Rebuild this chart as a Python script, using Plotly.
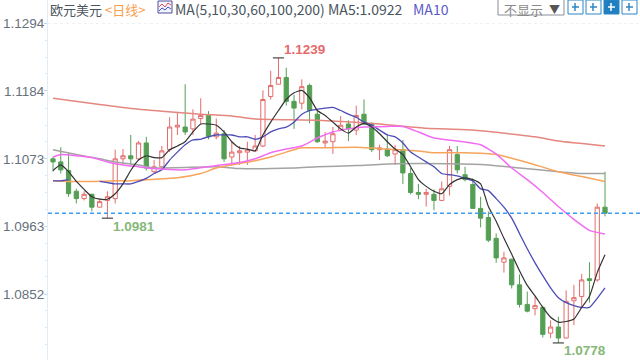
import plotly.graph_objects as go

open_ = [1.1073,1.1068,1.1054,1.1020,1.1008,1.1015,1.0994,1.1005,1.1008,1.1073,1.1078,1.1073,
         1.1099,1.1052,1.1060,1.1088,1.1125,1.1125,1.1122,1.1139,1.1144,1.1109,1.1114,1.1076,
         1.1083,1.1084,1.1086,1.1094,1.1175,1.1195,1.1206,1.1167,1.1164,1.1193,1.1146,1.1099,
         1.1101,1.1120,1.1130,1.1120,1.1146,1.1130,1.1088,1.1089,1.1081,1.1088,1.1049,1.1018,
         1.1015,1.1015,1.1005,1.1028,1.1080,1.1047,1.1031,1.0992,1.0977,1.0943,1.0904,1.0909,
         1.0867,1.0835,1.0828,1.0830,1.0788,1.0798,1.0780,1.0841,1.0848,1.0877,1.0875,1.0994]
close = [1.1068,1.1055,1.1016,1.1008,1.1015,1.0994,1.1003,1.1011,1.1073,1.1078,1.1073,1.1099,
         1.1058,1.1060,1.1086,1.1125,1.1128,1.1117,1.1138,1.1144,1.1109,1.1115,1.1073,1.1084,
         1.1086,1.1088,1.1094,1.1170,1.1193,1.1206,1.1167,1.1156,1.1191,1.1152,1.1101,1.1102,
         1.1114,1.1128,1.1122,1.1144,1.1130,1.1088,1.1091,1.1078,1.1088,1.1050,1.1018,1.1015,
         1.1018,1.1005,1.1024,1.1088,1.1055,1.1039,1.0992,1.0976,1.0940,1.0911,1.0911,1.0867,
         1.0835,1.0824,1.0833,1.0786,1.0798,1.0780,1.0840,1.0846,1.0875,1.0874,1.0994,1.0984]
high = [1.1076,1.1092,1.1083,1.1024,1.1020,1.1016,1.1008,1.1020,1.1088,1.1089,1.1112,1.1102,
        1.1109,1.1071,1.1094,1.1141,1.1149,1.1195,1.1154,1.1172,1.1151,1.1139,1.1120,1.1101,
        1.1094,1.1101,1.1112,1.1185,1.1217,1.1238,1.1222,1.1178,1.1203,1.1196,1.1152,1.1117,
        1.1125,1.1143,1.1136,1.1160,1.1170,1.1133,1.1096,1.1114,1.1096,1.1104,1.1058,1.1032,
        1.1024,1.1023,1.1036,1.1094,1.1094,1.1060,1.1041,1.1011,1.0987,1.0951,1.0921,1.0909,
        1.0884,1.0856,1.0848,1.0833,1.0809,1.0815,1.0858,1.0867,1.0885,1.0904,1.1000,1.1052]
low = [1.1052,1.1049,1.1011,1.1000,1.1005,1.0987,1.0994,1.0976,1.1000,1.1063,1.1062,1.1071,
       1.1054,1.1050,1.1057,1.1084,1.1112,1.1112,1.1112,1.1130,1.1105,1.1105,1.1068,1.1063,
       1.1063,1.1063,1.1084,1.1092,1.1170,1.1195,1.1160,1.1122,1.1154,1.1131,1.1099,1.1091,
       1.1081,1.1118,1.1102,1.1112,1.1128,1.1084,1.1071,1.1076,1.1063,1.1032,1.1015,1.1007,
       1.0995,1.0989,1.1005,1.1013,1.1049,1.1036,1.0992,1.0961,1.0937,1.0903,1.0887,1.0861,
       1.0830,1.0822,1.0817,1.0781,1.0780,1.0772,1.0780,1.0801,1.0830,1.0838,1.0872,1.0979]

ma5 = [1.1054,1.1063,1.1052,1.1036,1.1023,1.1011,1.1007,1.1007,1.1016,1.1032,1.1054,1.1071,
       1.1078,1.1075,1.1075,1.1088,1.1094,1.1101,1.1117,1.1130,1.1130,1.1128,1.1117,1.1101,
       1.1091,1.1089,1.1086,1.1112,1.1133,1.1152,1.1170,1.1181,1.1185,1.1173,1.1152,1.1144,
       1.1133,1.1122,1.1115,1.1125,1.1131,1.1125,1.1114,1.1101,1.1089,1.1080,1.1060,1.1039,
       1.1028,1.1020,1.1016,1.1031,1.1039,1.1042,1.1039,1.1032,1.0995,1.0971,1.0943,1.0917,
       1.0890,1.0866,1.0849,1.0830,1.0814,1.0806,1.0807,1.0811,1.0830,1.0848,1.0887,1.0916]
ma10 = [1.1037,1.1037,1.1039,None,None,None,1.1036,1.1034,1.1032,1.1032,1.1032,1.1036,
        1.1041,1.1049,1.1055,1.1071,1.1084,1.1096,1.1104,1.1105,1.1109,1.1112,1.1112,1.1112,
        1.1109,1.1109,1.1105,1.1109,1.1117,1.1122,1.1125,1.1133,1.1146,1.1152,1.1154,1.1156,
        1.1157,1.1152,1.1146,1.1141,1.1133,1.1128,1.1120,1.1112,1.1109,1.1099,1.1084,1.1076,
        1.1068,1.1060,1.1049,1.1047,1.1045,1.1041,1.1037,1.1024,1.1021,1.1008,1.0994,1.0976,
        1.0951,1.0926,1.0903,1.0882,1.0862,1.0846,1.0838,1.0833,1.0830,1.0830,1.0845,1.0862]
ma30_day = [1,2,4,6,8,10,12,14,18,22,25,27,29,31,33,35,37,39,41,44,46,48,50,53,56,58,60,62,64,66,68,70,72]
ma30 = [1.1076,1.1080,1.1078,1.1075,1.1068,1.1063,1.1060,1.1057,1.1055,1.1062,1.1067,1.1073,1.1083,
        1.1089,1.1094,1.1107,1.1117,1.1122,1.1125,1.1126,1.1126,1.1117,1.1107,1.1102,1.1096,1.1081,
        1.1058,1.1039,1.1018,1.0995,1.0974,1.0956,1.0950]
ma60_day = [1,3,6,9,11,13,17,20,22,24,27,29,31,33,36,40,44,48,50,54,58,62,66,69,72]
ma60 = [1.1037,1.1036,1.1036,1.1037,1.1037,1.1039,1.1042,1.1049,1.1058,1.1063,1.1070,1.1076,1.1084,
        1.1091,1.1091,1.1092,1.1089,1.1086,1.1083,1.1083,1.1080,1.1067,1.1052,1.1044,1.1036]
ma100_day = [1,4,7,9,12,14,22,25,32,35,40,45,52,57,61,66,69,72]
ma100 = [1.1088,1.1080,1.1073,1.1068,1.1063,1.1058,1.1060,1.1057,1.1058,1.1060,1.1062,1.1065,1.1065,
         1.1063,1.1058,1.1052,1.1049,1.1049]
ma200_day = [1,7,12,15,20,24,27,35,43,49,55,63,66,72]
ma200 = [1.1172,1.1162,1.1154,1.1151,1.1146,1.1143,1.1138,1.1136,1.1130,1.1123,1.1120,1.1109,1.1102,1.1094]

days = list(range(1, len(open_) + 1))
y_ticks = [1.1294, 1.1184, 1.1073, 1.0963, 1.0852]
y_tick_labels = ["1.1294", "1.1184", "1.1073", "1.0963", "1.0852"]
y_minor = [1.1267, 1.1239, 1.1212, 1.1156, 1.1128, 1.1101, 1.1045, 1.1018, 1.0990,
           1.0935, 1.0907, 1.0880, 1.0825, 1.0797, 1.0770]
extreme_high = (30, "1.1239")
extreme_lows = [(8, "1.0981"), (66, "1.0778")]

RED, GREEN = "#e36c6c", "#559f55"
fig = go.Figure()
fig.add_trace(go.Candlestick(
    x=days, open=open_, high=high, low=low, close=close, whiskerwidth=0,
    increasing=dict(line=dict(color=RED, width=1), fillcolor="white"),
    decreasing=dict(line=dict(color=GREEN, width=1), fillcolor=GREEN),
    hoverinfo="skip"))
for xs, ys, col, w in [(ma200_day, ma200, "#e5877f", 1.5), (ma100_day, ma100, "#a3a3a3", 1.5),
                       (ma60_day, ma60, "#f7a45c", 1.5), (days, ma10, "#4c4cb8", 1.3),
                       (ma30_day, ma30, "#f26cf2", 1.5), (days, ma5, "#333333", 1.2)]:
    fig.add_trace(go.Scatter(x=xs, y=ys, mode="lines", hoverinfo="skip",
                             line=dict(color=col, width=w, shape="spline", smoothing=0.5)))
ext_x = [extreme_high[0]] + [d for d, _ in extreme_lows]
ext_y = [high[extreme_high[0] - 1]] + [low[d - 1] for d, _ in extreme_lows]
fig.add_trace(go.Scatter(x=ext_x, y=ext_y, mode="markers", hoverinfo="skip",
                         marker=dict(symbol="line-ew", size=8, line=dict(color="#222222", width=1))))


def px(v):
    return (v - 48) / 592


def py(v):
    return 1 - v / 360


def head(x, y, text, color, size=13, anchor="left"):
    fig.add_annotation(xref="paper", yref="paper", x=px(x), y=py(y), text=text, showarrow=False,
                       xanchor=anchor, yanchor="middle", borderpad=0, borderwidth=0,
                       font=dict(color=color, size=size, family="Noto Sans CJK SC, Liberation Sans"))


head(50, 9, "欧元美元", "#4a5560", 13)
head(105, 9, "&lt;日线&gt;", "#f5a04f", 13)
head(175, 9, "MA(5,10,30,60,100,200)", "#4a5560", 14)
head(328, 9, "MA5:1.0922", "#4a5560", 14)
head(413, 9, "MA10", "#5a5ac8", 14)
head(504, 9, "不显示", "#8a8a8a", 13)
head(549, 9, "▼", "#555555", 11)

fig.add_annotation(x=extreme_high[0], y=ext_y[0], text=f"<b>{extreme_high[1]}</b>", showarrow=False,
                   xanchor="left", yanchor="middle", xshift=4, yshift=8,
                   font=dict(color="#e56a6a", size=13.5, family="Liberation Sans"))
for (d, t), yv in zip(extreme_lows, ext_y[1:]):
    fig.add_annotation(x=d, y=yv, text=f"<b>{t}</b>", showarrow=False, xanchor="left", yanchor="middle",
                       xshift=4, yshift=-8, font=dict(color="#86b878", size=13.5, family="Liberation Sans"))

shapes = [
    dict(type="line", xref="paper", yref="y", x0=0, x1=1, y0=close[-1], y1=close[-1],
         line=dict(color="#3c9df2", width=1.5, dash="4px,3px")),
    dict(type="line", xref="paper", yref="y", x0=0, x1=1, y0=y_ticks[0], y1=y_ticks[0],
         line=dict(color="#eeeeee", width=1, dash="3px,3px")),
    dict(type="rect", xref="paper", yref="paper", x0=px(158), x1=px(172), y0=py(13), y1=py(1),
         line=dict(color="#4c4c9c", width=1), fillcolor="#f4f4ff"),
    dict(type="rect", xref="paper", yref="paper", x0=px(498), x1=px(564), y0=py(15), y1=py(-1),
         line=dict(color="#8a8f96", width=1), fillcolor="white"),
]
for pts, col in [([(159, 7), (162, 4), (165, 7), (168, 3), (171, 5)], "#e05050"),
                 ([(159, 11), (162, 8), (165, 10), (168, 7), (171, 9)], "#4050d0")]:
    path = "M " + " L ".join(f"{px(a):.5f},{py(b):.5f}" for a, b in pts)
    shapes.append(dict(type="path", xref="paper", yref="paper", path=path,
                       line=dict(color=col, width=1)))

for left, filled in [(568, False), (586, False), (604, True), (622, False)]:
    ink = "white" if filled else "#2f86c5"
    shapes.append(dict(type="rect", xref="paper", yref="paper", x0=px(left), x1=px(left + 15),
                       y0=py(14), y1=py(0), line=dict(color="#2f86c5", width=1),
                       fillcolor="#1f7fc0" if filled else "white"))
    shapes.append(dict(type="line", xref="paper", yref="paper", x0=px(left + 4), x1=px(left + 11),
                       y0=py(7), y1=py(7), line=dict(color=ink, width=1.5)))
    shapes.append(dict(type="line", xref="paper", yref="paper", x0=px(left + 7), x1=px(left + 7),
                       y0=py(3), y1=py(11), line=dict(color=ink, width=1.5)))

fig.update_layout(
    width=640, height=360, margin=dict(l=48, r=0, t=0, b=0), showlegend=False, boxgap=0.22,
    paper_bgcolor="white", plot_bgcolor="white", shapes=shapes,
    xaxis=dict(range=[0.357, 76.5], rangeslider=dict(visible=False), visible=False),
    yaxis=dict(range=[1.07441, 1.13327], tickmode="array", tickvals=y_ticks, ticktext=y_tick_labels,
               ticks="outside", ticklen=3, tickcolor="#c5d6e6", showgrid=False, zeroline=False,
               showline=True, linecolor="#e3edf6", ticklabelstandoff=-3,
               tickfont=dict(family="Liberation Sans", size=13.5, color="#66717c"),
               minor=dict(tickmode="array", tickvals=y_minor, ticks="outside", ticklen=2, tickcolor="#dfe8f0")),
)
fig.write_html("out.html", config={"displayModeBar": False},
               post_script="document.body.style.margin='0';document.body.style.overflow='hidden';")
